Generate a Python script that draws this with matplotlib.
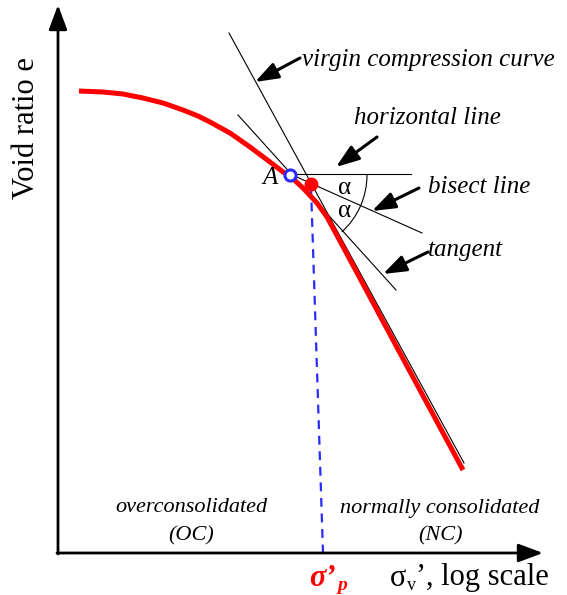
import numpy as np
import matplotlib
matplotlib.use("Agg")
import matplotlib.pyplot as plt
from matplotlib.patches import Arc

plt.rcParams['font.family'] = ['Liberation Serif', 'DejaVu Serif']

# drawing coordinates (x to the right, y downwards, same size as the picture)
curve_x = [79, 103, 123, 143, 163, 183, 198, 210, 230, 250, 270, 283, 290,
           303, 317, 327, 340, 400, 463]
curve_y = [91, 92, 94, 98, 103, 110, 116, 122, 133, 147, 162, 172, 176,
           188, 203, 217, 241, 353, 470]

virgin_x = [229, 464]
virgin_y = [33, 463]
tangent_x = [238, 396]
tangent_y = [115, 290]
horizontal_x = [290, 411]
horizontal_y = [174, 174]
bisect_x = [290, 422]
bisect_y = [174, 233]

point_a = (290, 175)
point_p = (311, 184)
dashed_x = [311, 323]
dashed_y = [187, 553]

arc_radius = 77
arc_angle = 47.7

# annotation arrows: (text, text position, arrow tail, arrow tip)
notes = [
    ('virgin compression curve', (302, 60), (300, 58), (255, 82)),
    ('horizontal line', (354, 118), (377, 137), (336, 167)),
    ('bisect line', (428, 187), (419, 188), (372, 211)),
    ('tangent', (428, 250), (428, 252), (383, 274)),
]

fig = plt.figure(figsize=(5.67, 5.95), dpi=100)
ax = fig.add_axes([0, 0, 1, 1])
ax.set_xlim(0, 567)
ax.set_ylim(595, 0)
ax.axis('off')

# axes with arrow heads
arrow_kw = dict(arrowstyle='-|>,head_length=0.75,head_width=0.28', color='k',
                lw=2, mutation_scale=20, shrinkA=0, shrinkB=0)
ax.annotate('', xy=(58, 5), xytext=(58, 554), arrowprops=arrow_kw)
ax.annotate('', xy=(543, 553), xytext=(57, 553), arrowprops=arrow_kw)

# construction lines
ax.plot(virgin_x, virgin_y, color='k', lw=0.8)
ax.plot(tangent_x, tangent_y, color='k', lw=0.8)
ax.plot(horizontal_x, horizontal_y, color='k', lw=0.8)
ax.plot(bisect_x, bisect_y, color='k', lw=0.8)
ax.add_patch(Arc(point_a, 2 * arc_radius, 2 * arc_radius, theta1=0, theta2=arc_angle,
                 color='k', lw=0.8))

# compression curve
ax.plot(curve_x, curve_y, color='#ff0000', lw=3.6, solid_capstyle='butt',
        solid_joinstyle='round', zorder=3)

ax.plot(dashed_x, dashed_y, color='#2a2aff', lw=1.6, ls=(0, (4, 3)), zorder=2)
ax.plot(*point_p, 'o', color='#ff0000', ms=9, zorder=4)
ax.plot(*point_a, 'o', mfc='white', mec='#2a2aff', mew=2.2, ms=8, zorder=5)

# labels and arrows
note_kw = dict(arrowstyle='-|>,head_length=0.7,head_width=0.25', color='k',
               lw=2.2, mutation_scale=20, shrinkA=0, shrinkB=0)
for label, pos, tail, tip in notes:
    ax.text(pos[0], pos[1], label, fontsize=18, style='italic', ha='left', va='center')
    ax.annotate('', xy=tip, xytext=tail, arrowprops=note_kw)

ax.text(270, 178, 'A', fontsize=18, style='italic', ha='center', va='center')
ax.text(345, 188, 'α', fontsize=18, ha='center', va='center')
ax.text(345, 211, 'α', fontsize=18, ha='center', va='center')

ax.text(26, 128, 'Void ratio e', fontsize=22, rotation=90, ha='center', va='center')

ax.text(191, 508, 'overconsolidated', fontsize=16, style='italic', ha='center', va='center')
ax.text(191, 536, '(OC)', fontsize=16, style='italic', ha='center', va='center')
ax.text(440, 508, 'normally consolidated', fontsize=16, style='italic', ha='center', va='center')
ax.text(440, 536, '(NC)', fontsize=16, style='italic', ha='center', va='center')

ax.text(390, 578, 'σ', fontsize=22, ha='left', va='center')
ax.text(407, 585, 'v', fontsize=13, ha='left', va='center')
ax.text(416, 578, '’, log scale', fontsize=22, ha='left', va='center')

ax.text(309, 578, 'σ’', fontsize=22, color='#ff0000', style='italic', weight='bold',
        ha='left', va='center')
ax.text(337, 585, 'p', fontsize=14, color='#ff0000', style='italic', weight='bold',
        ha='left', va='center')

fig.savefig('out.png', dpi=100)
